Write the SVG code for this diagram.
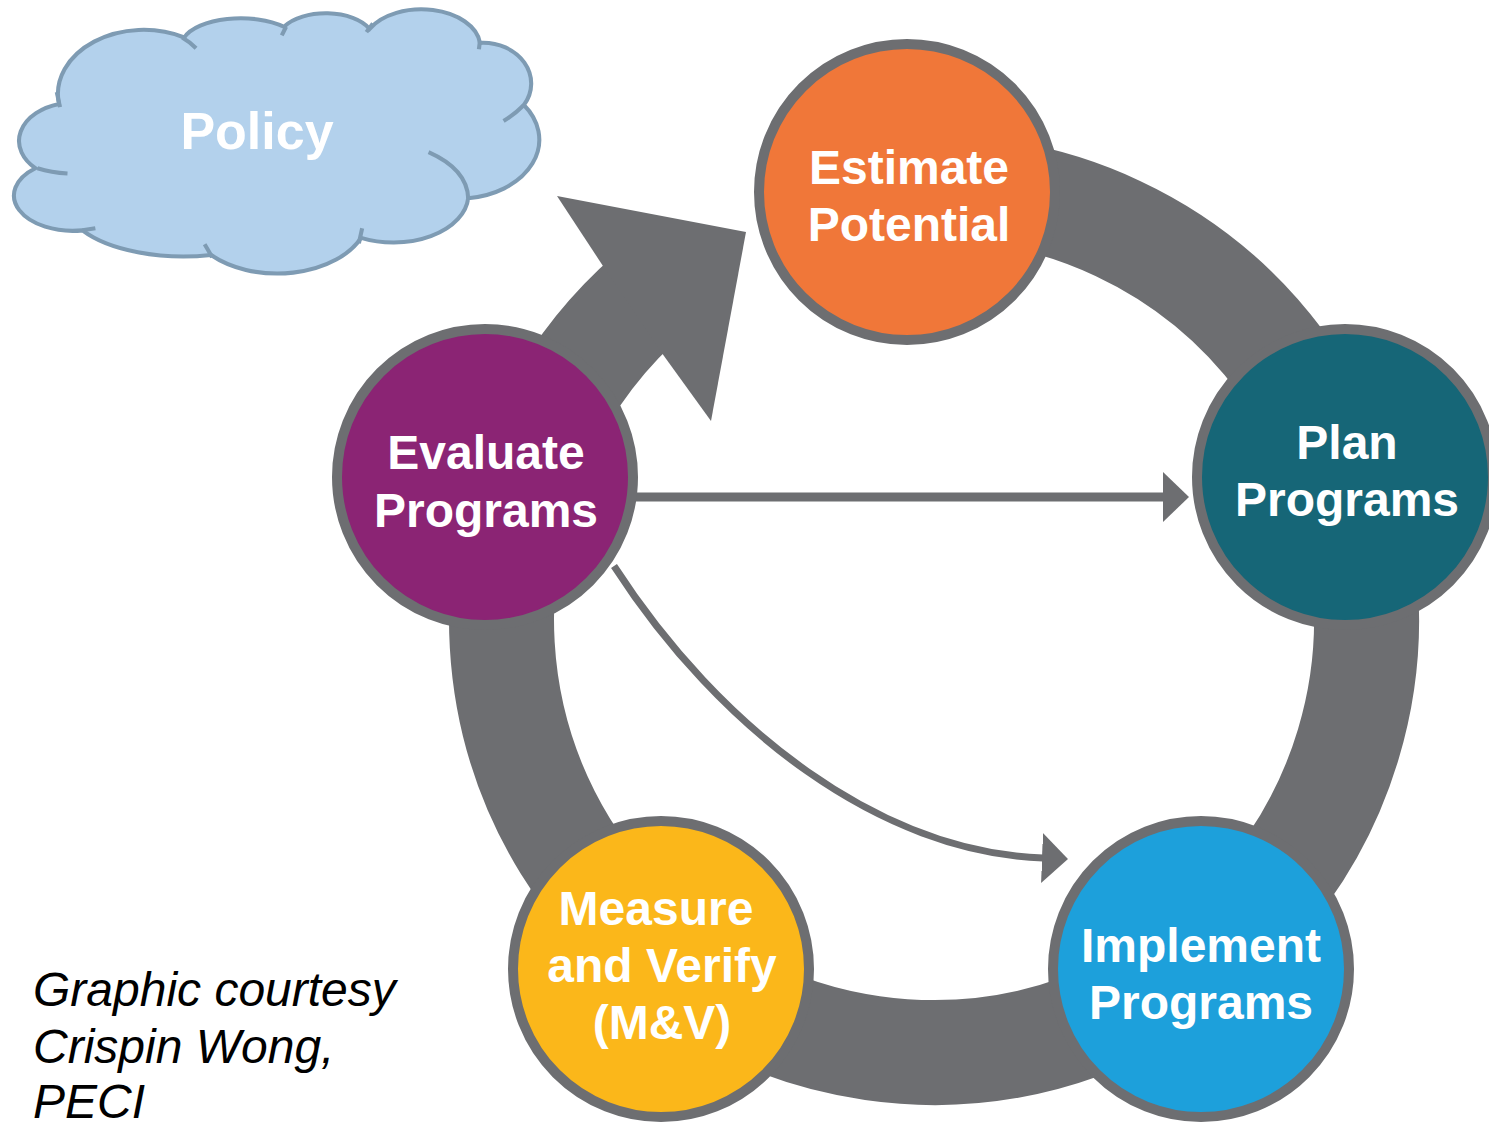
<svg xmlns="http://www.w3.org/2000/svg" width="1489" height="1122" viewBox="0 0 1489 1122">
<defs>
<style>
.node{stroke:#6D6E71;stroke-width:10}
.lbl{font-family:"Liberation Sans",Arial,sans-serif;font-weight:bold;font-size:48px;fill:#FFFFFF;text-anchor:middle}
.cl{fill:none;stroke:#7E9BB3;stroke-width:4;stroke-linecap:butt}
.thin{fill:none;stroke:#6D6E71}
.credit{font-family:"Liberation Sans",Arial,sans-serif;font-style:italic;font-size:48px;fill:#000000}
</style>
<marker id="ah" viewBox="0 0 26 50" markerWidth="26" markerHeight="50" refX="1" refY="25" orient="auto" markerUnits="userSpaceOnUse">
<path d="M0 0 L26 25 L0 50 Z" fill="#6D6E71"/>
</marker>
</defs>
<rect width="1489" height="1122" fill="#FFFFFF"/>

<g id="policy">
<g transform="scale(1.0714)">
<path d="M55 97 A52 36 0 0 0 33 157 A55 33 0 0 0 77 215 A110 50 0 0 0 197 238 A85 55 0 0 0 337 222 A70 45 0 0 0 437 185 A75 55 0 0 0 489 98 A45 38 0 0 0 448 40 A55 35 0 0 0 345 27 A45 25 0 0 0 265 25 A55 25 0 0 0 172 35 A80 60 0 0 0 55 97 Z" fill="#B3D1EC" stroke="#7E9BB3" stroke-width="3.8"/>
<path class="cl" d="M53 86 L56 100" style="stroke-width:3.8"/>
<path class="cl" d="M35 157 Q48 161 63 162" style="stroke-width:3.8"/>
<path class="cl" d="M77 215 L89 213" style="stroke-width:3.8"/>
<path class="cl" d="M191 228 Q194 233 198 240" style="stroke-width:3.8"/>
<path class="cl" d="M338 213 L335 227" style="stroke-width:3.8"/>
<path class="cl" d="M400 142 Q436 158 437 185" style="stroke-width:3.8"/>
<path class="cl" d="M470 113 Q480 107 489 98" style="stroke-width:3.8"/>
<path class="cl" d="M447 46 L448 38" style="stroke-width:3.8"/>
<path class="cl" d="M342 30 L348 22" style="stroke-width:3.8"/>
<path class="cl" d="M263 33 L267 25" style="stroke-width:3.8"/>
<path class="cl" d="M183 45 Q177 39 170 35" style="stroke-width:3.8"/>
</g>
<text class="lbl" x="257" y="149" style="font-size:52px">Policy</text>
</g>

<g id="connectors">
<path d="M656 288.7 A432.5 432.5 0 1 0 934 187.5" fill="none" stroke="#6D6E71" stroke-width="105"/>
<polygon points="603,266 557,196 746,232 711,421 664,356" fill="#6D6E71"/>
<line class="thin" x1="630" y1="497" x2="1164" y2="497" stroke-width="9" marker-end="url(#ah)"/>
<path class="thin" d="M614 566 C720 730 880 852 1043 858" stroke-width="7" marker-end="url(#ah)"/>
</g>

<g id="estimate">
<circle class="node" cx="907" cy="192" r="148" fill="#F07739"/>
<text class="lbl" x="909" y="184">Estimate</text>
<text class="lbl" x="909" y="241">Potential</text>
</g>

<g id="plan">
<circle class="node" cx="1345" cy="477" r="148" fill="#166677"/>
<text class="lbl" x="1347" y="459">Plan</text>
<text class="lbl" x="1347" y="516">Programs</text>
</g>

<g id="implement">
<circle class="node" cx="1201" cy="969" r="148" fill="#1DA0DB"/>
<text class="lbl" x="1201" y="962">Implement</text>
<text class="lbl" x="1201" y="1019">Programs</text>
</g>

<g id="measure">
<circle class="node" cx="661" cy="969" r="148" fill="#FBB71A"/>
<text class="lbl" x="656" y="925">Measure</text>
<text class="lbl" x="662" y="982">and Verify</text>
<text class="lbl" x="662" y="1039">(M&amp;V)</text>
</g>

<g id="evaluate">
<circle class="node" cx="485" cy="477" r="148" fill="#8B2474"/>
<text class="lbl" x="486" y="469">Evaluate</text>
<text class="lbl" x="486" y="527">Programs</text>
</g>

<g id="credit">
<text class="credit" x="33" y="1006">Graphic courtesy</text>
<text class="credit" x="33" y="1063">Crispin Wong,</text>
<text class="credit" x="33" y="1118">PECI</text>
</g>
</svg>
